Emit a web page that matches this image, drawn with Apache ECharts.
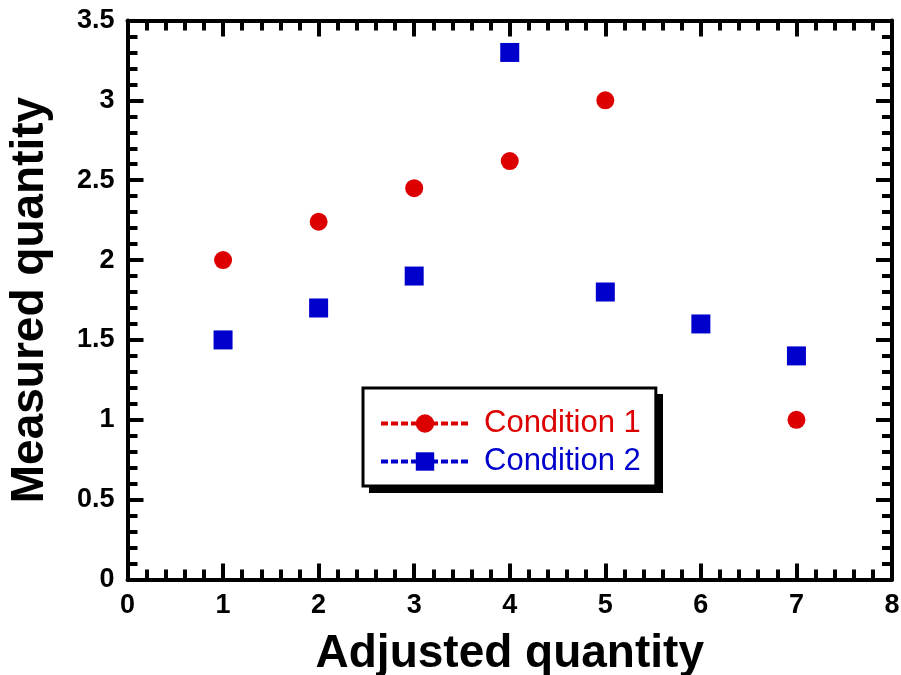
<!DOCTYPE html>
<html>
<head>
<meta charset="utf-8">
<script src="https://cdn.jsdelivr.net/npm/echarts@6/dist/echarts.min.js"></script>
<style>
  html, body { margin: 0; padding: 0; background: #fff; }
  #chart { width: 901px; height: 675px; }
</style>
</head>
<body>
<div id="chart"></div>
<script>
// Measurements for the two conditions
const cond1X = [1, 2, 3, 4, 5, 7];
const cond1Y = [2.0, 2.24, 2.45, 2.62, 3.0, 1.0];
const cond2X = [1, 2, 3, 4, 5, 6, 7];
const cond2Y = [1.5, 1.7, 1.9, 3.3, 1.8, 1.6, 1.4];
const seriesNames = ['Condition 1', 'Condition 2'];
const seriesColors = ['#dd0000', '#0000cc'];
const xRange = [0, 8];
const yRange = [0, 3.5];

const FONT = 'Liberation Sans, Arial, sans-serif';

function pairs(xs, ys) { return xs.map((x, i) => [x, ys[i]]); }

// Closed frame: every side carries inward major and minor ticks
const frameAxis = {
  axisLine: { show: true, onZero: false, lineStyle: { color: '#000', width: 4 } },
  axisTick: { show: true, inside: true, length: 16, lineStyle: { color: '#000', width: 4 } },
  minorTick: { show: true, splitNumber: 5, length: 10, lineStyle: { color: '#000', width: 4 } },
  splitLine: { show: false },
  minorSplitLine: { show: false }
};

const tickFont = { fontFamily: FONT, fontWeight: 'bold', fontSize: 27, color: '#000' };
const titleFont = { fontFamily: FONT, fontWeight: 'bold', fontSize: 46, color: '#000' };

const chart = echarts.init(document.getElementById('chart'), null, { renderer: 'canvas' });
chart.setOption({
  backgroundColor: '#fff',
  animation: false,
  grid: {
    left: 127.5, right: 9, top: 20.5, bottom: 95.5,
    containLabel: false, outerBoundsMode: 'none'
  },
  xAxis: [
    Object.assign({}, frameAxis, {
      type: 'value', min: xRange[0], max: xRange[1], interval: 1, position: 'bottom',
      name: 'Adjusted quantity', nameLocation: 'middle', nameGap: 52,
      nameTextStyle: titleFont,
      axisLabel: Object.assign({ margin: 13 }, tickFont)
    }),
    Object.assign({}, frameAxis, {
      type: 'value', min: xRange[0], max: xRange[1], interval: 1, position: 'top',
      axisLabel: { show: false }
    })
  ],
  yAxis: [
    Object.assign({}, frameAxis, {
      type: 'value', min: yRange[0], max: yRange[1], interval: 0.5, position: 'left',
      name: 'Measured quantity', nameLocation: 'middle', nameGap: 74, nameRotate: 90,
      nameTextStyle: titleFont,
      axisLabel: Object.assign({ margin: 13 }, tickFont)
    }),
    Object.assign({}, frameAxis, {
      type: 'value', min: yRange[0], max: yRange[1], interval: 0.5, position: 'right',
      axisLabel: { show: false }
    })
  ],
  // Solid drop shadow behind the legend box
  graphic: [{
    type: 'rect', z: 1,
    shape: { x: 369, y: 394, width: 294, height: 99 },
    style: { fill: '#000' }
  }],
  legend: {
    z: 5,
    orient: 'vertical',
    left: 363, top: 388,
    padding: [20, 15, 9, 16],
    itemGap: 7,
    itemWidth: 88, itemHeight: 23,
    backgroundColor: '#fff',
    borderColor: '#000', borderWidth: 3,
    lineStyle: { type: [7, 3], width: 4, opacity: 1 },
    textStyle: { fontFamily: FONT, fontSize: 31, padding: [0, 0, 0, 10] },
    data: seriesNames.map((n, i) => ({ name: n, textStyle: { color: seriesColors[i] } }))
  },
  series: [
    {
      name: seriesNames[0], type: 'line', xAxisIndex: 0, yAxisIndex: 0,
      data: pairs(cond1X, cond1Y),
      symbol: 'circle', symbolSize: 18, showAllSymbol: true,
      itemStyle: { color: seriesColors[0] },
      lineStyle: { color: seriesColors[0], opacity: 0, width: 0 }
    },
    {
      name: seriesNames[1], type: 'line', xAxisIndex: 0, yAxisIndex: 0,
      data: pairs(cond2X, cond2Y),
      symbol: 'rect', symbolSize: 19, showAllSymbol: true,
      itemStyle: { color: seriesColors[1] },
      lineStyle: { color: seriesColors[1], opacity: 0, width: 0 }
    }
  ]
});
</script>
</body>
</html>
